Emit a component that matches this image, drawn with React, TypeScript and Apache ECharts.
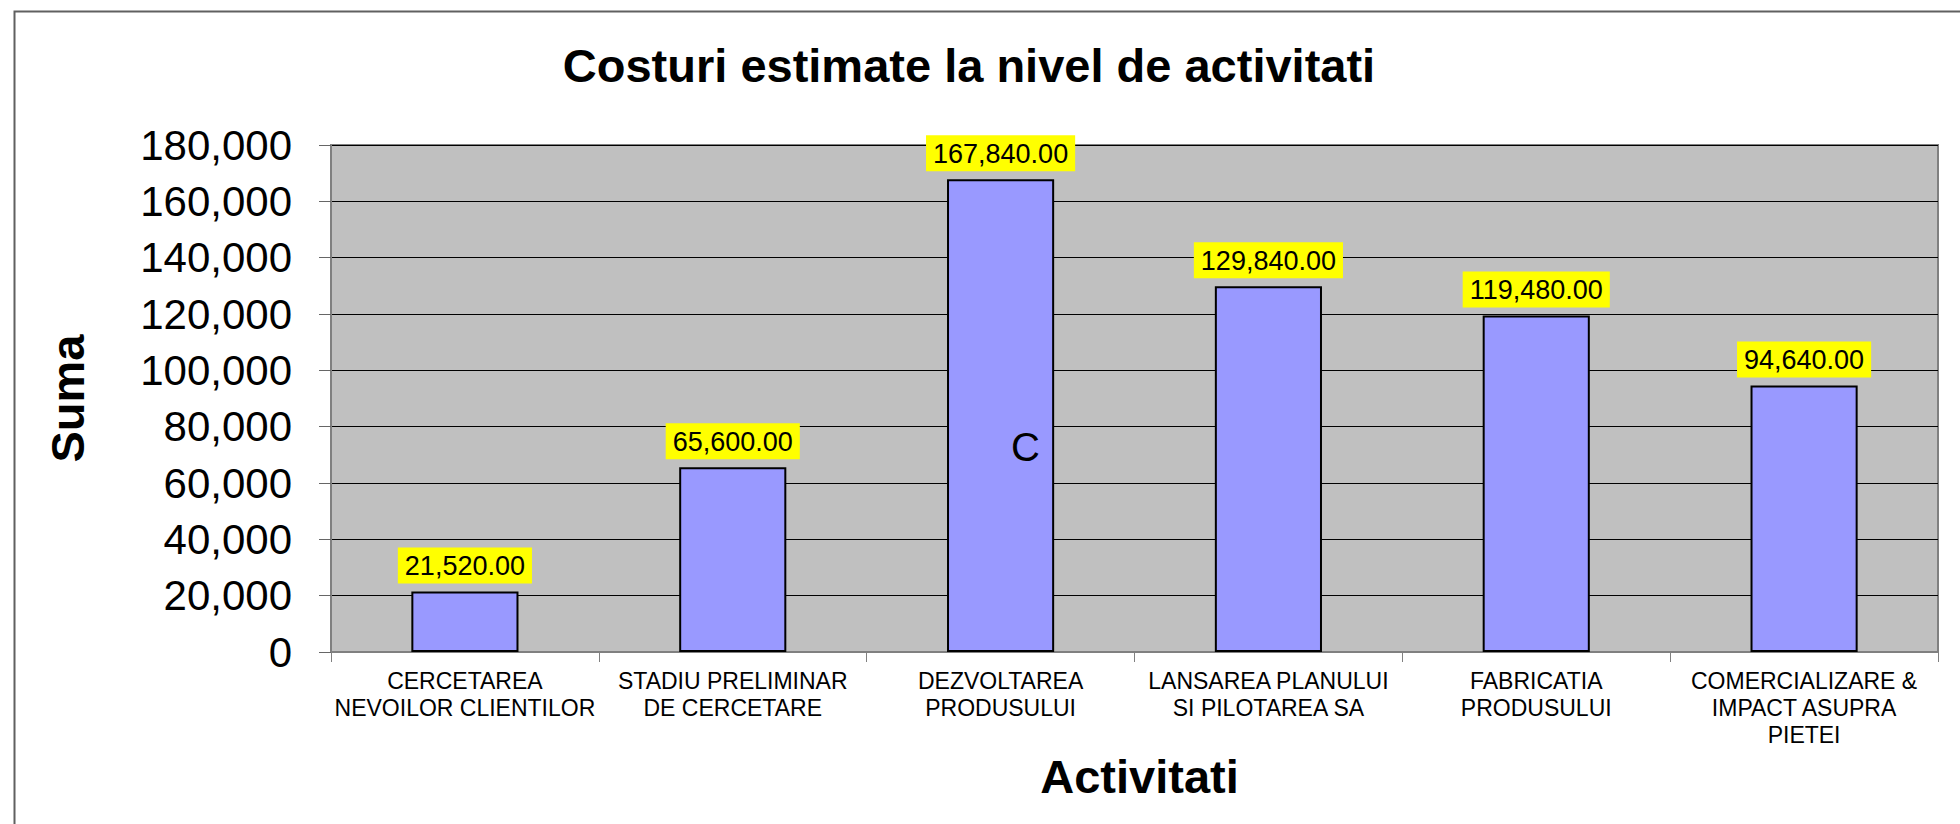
import React, { useEffect, useRef } from "react";
import * as echarts from "echarts";

const titleText = "Costuri estimate la nivel de activitati";
const yAxisName = "Suma";
const xAxisName = "Activitati";
const categories = [
  "CERCETAREA\nNEVOILOR CLIENTILOR",
  "STADIU PRELIMINAR\nDE CERCETARE",
  "DEZVOLTAREA\nPRODUSULUI",
  "LANSAREA PLANULUI\nSI PILOTAREA SA",
  "FABRICATIA\nPRODUSULUI",
  "COMERCIALIZARE &\nIMPACT ASUPRA\nPIETEI",
];
const values = [21520, 65600, 167840, 129840, 119480, 94640];
const yMin = 0;
const yMax = 180000;
const yInterval = 20000;
const annotationText = "C";

const FONT = "Arial, 'Liberation Sans', sans-serif";

function fmtInt(v: number) {
  return v.toLocaleString("en-US");
}
function fmt2(v: number) {
  return v.toLocaleString("en-US", { minimumFractionDigits: 2, maximumFractionDigits: 2 });
}

export default function App() {
  const ref = useRef<HTMLDivElement>(null);
  useEffect(() => {
    if (!ref.current) return;
    const chart = echarts.init(ref.current, null, { renderer: "svg" });
    chart.setOption({
      animation: false,
      backgroundColor: "#ffffff",
      title: {
        text: titleText,
        left: 964,
        textAlign: "center",
        top: 37,
        textStyle: { fontFamily: FONT, fontSize: 47, fontWeight: "bold", color: "#000" },
      },
      graphic: [
        {
          type: "rect",
          left: 12,
          top: 9,
          shape: { width: 2000, height: 900 },
          style: { fill: "none", stroke: "#606060", lineWidth: 2 },
          silent: true,
        },
        {
          type: "text",
          left: 1011,
          top: 427,
          style: { text: annotationText, fontFamily: FONT, fontSize: 40, fill: "#000" },
          z: 100,
        },
      ],
      grid: {
        left: 331,
        right: 22,
        top: 145,
        bottom: 172,
        show: true,
        backgroundColor: "#C0C0C0",
        borderColor: "#808080",
        borderWidth: 2,
      },
      xAxis: {
        type: "category",
        data: categories,
        name: xAxisName,
        nameLocation: "middle",
        nameGap: 100,
        nameTextStyle: { fontFamily: FONT, fontSize: 47, fontWeight: "bold", color: "#000", padding: [0, 0, 0, 10] },
        axisLine: { show: true, lineStyle: { color: "#808080", width: 2 } },
        axisTick: { show: true, length: 10, alignWithLabel: false, lineStyle: { color: "#808080", width: 1 } },
        axisLabel: {
          interval: 0,
          margin: 15,
          fontFamily: FONT,
          fontSize: 23,
          lineHeight: 27,
          color: "#000",
          align: "center",
        },
        splitLine: { show: false },
      },
      yAxis: {
        type: "value",
        min: yMin,
        max: yMax,
        interval: yInterval,
        name: yAxisName,
        nameLocation: "middle",
        nameGap: 240,
        nameRotate: 90,
        nameTextStyle: { fontFamily: FONT, fontSize: 47, fontWeight: "bold", color: "#000" },
        axisLine: { show: true, lineStyle: { color: "#808080", width: 2 } },
        axisTick: { show: true, length: 12, inside: false, lineStyle: { color: "#666", width: 1 } },
        axisLabel: {
          margin: 39,
          fontFamily: FONT,
          fontSize: 42,
          color: "#000",
          formatter: (v: number) => fmtInt(v),
        },
        splitLine: { show: true, lineStyle: { color: "#000", width: 1 } },
      },
      series: [
        {
          type: "bar",
          data: values,
          barWidth: "40%",
          itemStyle: { color: "#9999FF", borderColor: "#000", borderWidth: 2 },
          label: {
            show: true,
            position: "top",
            distance: 8,
            formatter: (p: any) => fmt2(p.value),
            fontFamily: FONT,
            fontSize: 27,
            color: "#000",
            backgroundColor: "#FFFF00",
            padding: [5, 7, 4, 7],
          },
        },
      ],
    });
    return () => chart.dispose();
  }, []);
  return (
    <div
      ref={ref}
      style={{ position: "fixed", left: 0, top: 0, width: 1960, height: 824 }}
    />
  );
}
